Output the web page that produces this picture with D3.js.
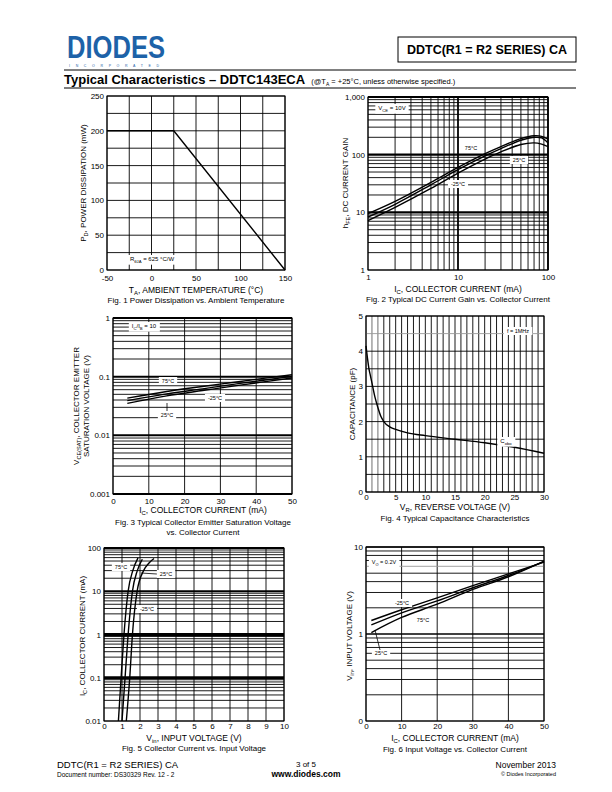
<!DOCTYPE html>
<html><head><meta charset="utf-8">
<script src="https://cdn.jsdelivr.net/npm/d3@7"></script>
<style>body{margin:0;background:#fff} svg{display:block;font-family:"Liberation Sans",Arial,sans-serif}</style>
</head><body><svg id="c" width="612" height="792"></svg>
<script>
// ---------- DATA ----------
const fig1Temp = [-50, 25, 150];
const fig1Power = [200, 200, 0];
const fig1XTicks = [-50, 0, 50, 100, 150];
const fig1YTicks = [0, 50, 100, 150, 200, 250];

const fig2Ic = [1, 2, 5, 10, 20, 30, 50, 70, 85, 100];
const fig2Gain75 = [9.5, 15.5, 33, 60, 104, 138, 190, 213, 208, 185];
const fig2Gain25 = [8.3, 13.8, 30, 55, 95, 127, 178, 200, 196, 160];
const fig2GainM25 = [7.2, 12.2, 26, 48, 84, 112, 150, 160, 152, 138];
const fig2XTicks = [1, 10, 100];
const fig2XLabels = ["1", "10", "100"];
const fig2YTicks = [1, 10, 100, 1000];
const fig2YLabels = ["1", "10", "100", "1,000"];

const fig3Ic = [4, 15, 25, 35, 50];
const fig3V75 = [0.043, 0.056, 0.068, 0.082, 0.108];
const fig3V25 = [0.039, 0.051, 0.062, 0.076, 0.101];
const fig3VM25 = [0.035, 0.047, 0.058, 0.071, 0.095];
const fig3XTicks = [0, 10, 20, 30, 40, 50];
const fig3YTicks = [0.001, 0.01, 0.1, 1];
const fig3YLabels = ["0.001", "0.01", "0.1", "1"];

const fig4Vr = [0, 0.25, 0.5, 0.75, 1, 1.5, 2, 2.5, 3, 4, 5, 7, 10, 15, 20, 25, 30];
const fig4Cobo = [4.15, 3.8, 3.5, 3.3, 3.1, 2.7, 2.4, 2.15, 2.0, 1.85, 1.78, 1.68, 1.6, 1.5, 1.4, 1.27, 1.1];
const fig4XTicks = [0, 5, 10, 15, 20, 25, 30];
const fig4YTicks = [0, 1, 2, 3, 4, 5];

const fig5Vin75 = [0.8, 0.95, 1.11, 1.34, 1.6, 1.89];
const fig5Ic75 = [0.01, 0.1, 1, 10, 30, 59];
const fig5Vin25 = [1.0, 1.17, 1.34, 1.58, 1.85, 2.13];
const fig5Ic25 = [0.01, 0.1, 1, 10, 30, 55];
const fig5VinM25 = [1.24, 1.43, 1.58, 1.84, 2.2, 2.5, 2.78];
const fig5IcM25 = [0.01, 0.1, 1, 10, 30, 45, 57];
const fig5XTicks = [0, 1, 2, 3, 4, 5, 6, 7, 8, 9, 10];
const fig5YTicks = [0.01, 0.1, 1, 10, 100];
const fig5YLabels = ["0.01", "0.1", "1", "10", "100"];

const fig6Ic = [1.5, 10, 20, 30, 40, 50];
const fig6VinM25 = [1.43, 1.9, 2.6, 3.6, 4.9, 6.7];
const fig6Vin25 = [1.27, 1.75, 2.4, 3.4, 4.7, 6.8];
const fig6Vin75 = [1.04, 1.55, 2.2, 3.25, 4.55, 6.9];
const fig6XTicks = [0, 10, 20, 30, 40, 50];
const fig6YTicks = [0.1, 1, 10];
const fig6YLabels = ["0", "1", "10"];

// ---------- HELPERS ----------
const svg = d3.select("#c");

function rich(g, x, y, parts, opts = {}) {
  const size = opts.size || 8.5;
  const t = g.append("text").attr("x", x).attr("y", y)
    .attr("font-size", size)
    .attr("text-anchor", opts.anchor || "start")
    .attr("font-weight", opts.weight || "normal")
    .attr("fill", "#000");
  if (opts.rotate) t.attr("transform", `rotate(-90 ${x} ${y})`);
  let shift = 0;
  parts.forEach(p => {
    if (typeof p === "string") {
      const s = t.append("tspan").text(p);
      if (shift) { s.attr("dy", -shift); shift = 0; }
    } else {
      const d = size * 0.28;
      t.append("tspan").attr("dy", d - shift).attr("font-size", size * 0.7).text(p.sub);
      shift = d;
    }
  });
  return t;
}

function boxLabel(g, x, y, parts, size) {
  const grp = g.append("g");
  const r = grp.append("rect").attr("fill", "#fff");
  const t = rich(grp, x, y, parts, { size: size || 6, anchor: "middle" });
  const b = t.node().getBBox();
  r.attr("x", b.x - 3).attr("y", b.y - 1).attr("width", b.width + 6).attr("height", b.height + 2);
  return grp;
}

function logMinor(lo, hi) {
  const out = [];
  for (let d = lo; d < hi * 0.999; d *= 10) for (let k = 1; k < 10; k++) out.push(d * k);
  out.push(hi);
  return out;
}

function chart(cfg) {
  const g = svg.append("g");
  const x = (cfg.xlog ? d3.scaleLog() : d3.scaleLinear()).domain(cfg.xd).range([cfg.l, cfg.r]);
  const y = (cfg.ylog ? d3.scaleLog() : d3.scaleLinear()).domain(cfg.yd).range([cfg.b, cfg.t]);
  const grid = g.append("g");
  cfg.vgrid.forEach(v => {
    grid.append("line").attr("x1", x(v.v)).attr("x2", x(v.v)).attr("y1", cfg.t).attr("y2", cfg.b)
      .attr("stroke", v.c || "#000").attr("stroke-width", v.w || 0.9);
  });
  cfg.hgrid.forEach(v => {
    grid.append("line").attr("y1", y(v.v)).attr("y2", y(v.v)).attr("x1", cfg.l).attr("x2", cfg.r)
      .attr("stroke", v.c || "#000").attr("stroke-width", v.w || 0.9);
  });
  g.append("rect").attr("x", cfg.l).attr("y", cfg.t).attr("width", cfg.r - cfg.l).attr("height", cfg.b - cfg.t)
    .attr("fill", "none").attr("stroke", "#000").attr("stroke-width", 1);
  const xa = g.append("g").attr("transform", `translate(0,${cfg.b})`)
    .call(d3.axisBottom(x).tickValues(cfg.xticks).tickSize(0).tickPadding(cfg.xpad || 4)
      .tickFormat((d, i) => cfg.xlabels ? cfg.xlabels[i] : d));
  const ya = g.append("g").attr("transform", `translate(${cfg.l},0)`)
    .call(d3.axisLeft(y).tickValues(cfg.yticks).tickSize(0).tickPadding(3)
      .tickFormat((d, i) => cfg.ylabels ? cfg.ylabels[i] : d));
  [xa, ya].forEach(a => {
    a.select(".domain").remove();
    a.selectAll("text").attr("font-size", 8).attr("font-family", "Liberation Sans, Arial, sans-serif").attr("fill", "#000");
  });
  return { g, x, y };
}

function curve(c, xs, ys, w, curveType) {
  const pts = xs.map((v, i) => [c.x(v), c.y(ys[i])]);
  c.g.append("path").attr("d", d3.line().curve(curveType || d3.curveCatmullRom)(pts))
    .attr("fill", "none").attr("stroke", "#000").attr("stroke-width", w || 1.4);
}

const range = (a, b, s) => d3.range(a, b + s / 2, s);
const near = (a, b) => Math.abs(a - b) < 1e-9 * Math.max(1, b);

// ---------- HEADER ----------
svg.append("text").attr("x", 67).attr("y", 58).attr("font-size", 31).attr("font-weight", "bold")
  .attr("fill", "#1d62a8").attr("textLength", 98).attr("lengthAdjust", "spacingAndGlyphs")
  .text("DIODES");
svg.append("text").attr("x", 69).attr("y", 67).attr("font-size", 3.5).attr("fill", "#1d62a8")
  .attr("textLength", 90).text("I N C O R P O R A T E D");
svg.append("rect").attr("x", 398).attr("y", 37).attr("width", 178).attr("height", 25)
  .attr("fill", "none").attr("stroke", "#000").attr("stroke-width", 1);
svg.append("text").attr("x", 487).attr("y", 54).attr("text-anchor", "middle").attr("font-size", 12.5)
  .attr("font-weight", "bold").text("DDTC(R1 = R2 SERIES) CA");
svg.append("line").attr("x1", 64).attr("x2", 576).attr("y1", 70).attr("y2", 70).attr("stroke", "#000").attr("stroke-width", 1);
svg.append("line").attr("x1", 64).attr("x2", 576).attr("y1", 88).attr("y2", 88).attr("stroke", "#000").attr("stroke-width", 1);
const tt = svg.append("text").attr("x", 64).attr("y", 84).attr("font-size", 13).attr("font-weight", "bold");
tt.append("tspan").text("Typical Characteristics \u2013 DDTC143ECA ");
tt.append("tspan").attr("font-size", 7.5).attr("font-weight", "normal").attr("dx", 3).text("(@T");
tt.append("tspan").attr("font-size", 5).attr("font-weight", "normal").attr("dy", 1.5).text("A");
tt.append("tspan").attr("font-size", 7.5).attr("font-weight", "normal").attr("dy", -1.5).text(" = +25\u00b0C, unless otherwise specified.)");

// ---------- FIG 1 ----------
const c1 = chart({ l: 107, r: 285, t: 96, b: 270, xd: [-50, 150], yd: [0, 250], xpad: 5.5,
  vgrid: range(-50, 150, 25).map(v => ({ v })), hgrid: range(0, 250, 25).map(v => ({ v })),
  xticks: fig1XTicks, yticks: fig1YTicks });
curve(c1, fig1Temp, fig1Power, 1.4, d3.curveLinear);
boxLabel(c1.g, 152, 261, ["R", { sub: "\u03b8JA" }, " = 625 \u00b0C/W"], 6).attr("font-weight", "bold");
rich(svg, 196, 293, ["T", { sub: "A" }, ", AMBIENT TEMPERATURE (\u00b0C)"], { anchor: "middle", size: 8.5 });
rich(svg, 196, 302.5, ["Fig. 1 Power Dissipation vs. Ambient Temperature"], { anchor: "middle", size: 8 });
rich(svg, 86, 183, ["P", { sub: "D" }, ", POWER DISSIPATION (mW)"], { anchor: "middle", size: 8, rotate: true });

// ---------- FIG 2 ----------
const c2 = chart({ l: 368, r: 548, t: 97, b: 270, xlog: true, ylog: true, xd: [1, 100], yd: [1, 1000],
  vgrid: logMinor(1, 100).map(v => ({ v, w: (near(v, 10) || near(v, 100)) ? 1.8 : 0.9 })),
  hgrid: logMinor(1, 1000).map(v => ({ v, w: (near(v, 10) || near(v, 100) || near(v, 1000)) ? 2.2 : 0.9 })),
  xticks: fig2XTicks, xlabels: fig2XLabels, yticks: fig2YTicks, ylabels: fig2YLabels });
curve(c2, fig2Ic, fig2Gain75);
curve(c2, fig2Ic, fig2Gain25);
curve(c2, fig2Ic, fig2GainM25);
boxLabel(c2.g, 392, 110, ["V", { sub: "CE" }, " = 10V"], 6);
boxLabel(c2.g, 471, 150, ["75\u00b0C"], 5.5);
boxLabel(c2.g, 519, 162, ["25\u00b0C"], 5.5);
boxLabel(c2.g, 458, 186, ["-25\u00b0C"], 5.5);
rich(svg, 458, 292, ["I", { sub: "C" }, ", COLLECTOR CURRENT (mA)"], { anchor: "middle", size: 8.5 });
rich(svg, 458, 302, ["Fig. 2 Typical DC Current Gain vs. Collector Current"], { anchor: "middle", size: 8 });
rich(svg, 348, 183, ["h", { sub: "FE" }, ", DC CURRENT GAIN"], { anchor: "middle", size: 8, rotate: true });

// ---------- FIG 3 ----------
const c3 = chart({ l: 113, r: 292, t: 318, b: 494, ylog: true, xd: [0, 50], yd: [0.001, 1],
  vgrid: fig3XTicks.map(v => ({ v })),
  hgrid: logMinor(0.001, 1).map(v => ({ v, w: [0.001, 0.01, 0.1, 1].some(d => near(v, d)) ? 2 : 0.9 })),
  xticks: fig3XTicks, yticks: fig3YTicks, ylabels: fig3YLabels });
curve(c3, fig3Ic, fig3V75);
curve(c3, fig3Ic, fig3V25);
curve(c3, fig3Ic, fig3VM25);
boxLabel(c3.g, 144, 328, ["I", { sub: "C" }, "/I", { sub: "B" }, " = 10"], 6);
boxLabel(c3.g, 168, 383, ["75\u00b0C"], 5.5);
boxLabel(c3.g, 215, 400, ["-25\u00b0C"], 5.5);
boxLabel(c3.g, 167, 417, ["25\u00b0C"], 5.5);
c3.g.append("line").attr("x1", 167).attr("x2", 167).attr("y1", 403).attr("y2", 411).attr("stroke", "#000").attr("stroke-width", 0.8);
rich(svg, 203, 513, ["I", { sub: "C" }, ", COLLECTOR CURRENT (mA)"], { anchor: "middle", size: 8.5 });
rich(svg, 203, 525, ["Fig. 3 Typical Collector Emitter Saturation Voltage"], { anchor: "middle", size: 8 });
rich(svg, 203, 535, ["vs. Collector Current"], { anchor: "middle", size: 8 });
rich(svg, 79, 406, ["V", { sub: "CE(SAT)" }, ", COLLECTOR EMITTER"], { anchor: "middle", size: 8, rotate: true });
rich(svg, 89, 406, ["SATURATION VOLTAGE (V)"], { anchor: "middle", size: 8, rotate: true });

// ---------- FIG 4 ----------
const c4 = chart({ l: 366, r: 544, t: 316, b: 492, xd: [0, 30], yd: [0, 5], xpad: 2,
  vgrid: range(0, 30, 1).map(v => ({ v, c: (v === 1 || v === 2) ? "#999" : "#000", w: (v === 1 || v === 2) ? 1.4 : 0.9 })),
  hgrid: range(0, 5, 0.5).map(v => ({ v, c: v === 4.5 ? "#999" : "#000" })),
  xticks: fig4XTicks, yticks: fig4YTicks });
curve(c4, fig4Vr, fig4Cobo, 1.4, d3.curveMonotoneX);
boxLabel(c4.g, 518, 333, ["f = 1MHz"], 5.5);
boxLabel(c4.g, 506, 443, ["C", { sub: "obo" }], 6);
rich(svg, 455, 510, ["V", { sub: "R" }, ", REVERSE VOLTAGE (V)"], { anchor: "middle", size: 8.5 });
rich(svg, 455, 521, ["Fig. 4  Typical Capacitance Characteristics"], { anchor: "middle", size: 8 });
rich(svg, 355, 404, ["CAPACITANCE (pF)"], { anchor: "middle", size: 8, rotate: true });

// ---------- FIG 5 ----------
const c5 = chart({ l: 104, r: 284, t: 548, b: 721, ylog: true, xd: [0, 10], yd: [0.01, 100], xpad: 2,
  vgrid: fig5XTicks.map(v => ({ v })),
  hgrid: logMinor(0.01, 100).map(v => ({ v, w: (near(v, 1) || near(v, 0.1)) ? 3 : (near(v, 10) || near(v, 100)) ? 2.2 : 0.9 })),
  xticks: fig5XTicks, yticks: fig5YTicks, ylabels: fig5YLabels });
curve(c5, fig5Vin75, fig5Ic75, 1.4, d3.curveMonotoneX);
curve(c5, fig5Vin25, fig5Ic25, 1.4, d3.curveMonotoneX);
curve(c5, fig5VinM25, fig5IcM25, 1.4, d3.curveMonotoneX);
boxLabel(c5.g, 121, 569, ["75\u00b0C"], 5.5);
c5.g.append("line").attr("x1", 141).attr("x2", 157).attr("y1", 573).attr("y2", 574).attr("stroke", "#000").attr("stroke-width", 0.8);
boxLabel(c5.g, 166, 576, ["25\u00b0C"], 5.5);
boxLabel(c5.g, 147, 611, ["-25\u00b0C"], 5.5);
rich(svg, 194, 741, ["V", { sub: "in" }, ", INPUT VOLTAGE (V)"], { anchor: "middle", size: 8.5 });
rich(svg, 194, 751, ["Fig. 5  Collector Current vs. Input Voltage"], { anchor: "middle", size: 8 });
rich(svg, 85, 636, ["I", { sub: "C" }, ", COLLECTOR CURRENT (mA)"], { anchor: "middle", size: 8, rotate: true });

// ---------- FIG 6 ----------
const c6 = chart({ l: 366, r: 544, t: 547, b: 721, ylog: true, xd: [0, 50], yd: [0.1, 10], xpad: 2,
  vgrid: fig6XTicks.map(v => ({ v })),
  hgrid: logMinor(0.1, 10).map(v => ({ v, c: near(v, 6) ? "#999" : "#000",
    w: (near(v, 1) || near(v, 10)) ? 1.6 : 0.9 })),
  xticks: fig6XTicks, yticks: fig6YTicks, ylabels: fig6YLabels });
curve(c6, fig6Ic, fig6VinM25);
curve(c6, fig6Ic, fig6Vin25);
curve(c6, fig6Ic, fig6Vin75);
boxLabel(c6.g, 384, 564, ["V", { sub: "O" }, " = 0.2V"], 5.5);
boxLabel(c6.g, 402, 605, ["-25\u00b0C"], 5.5);
boxLabel(c6.g, 423, 622, ["75\u00b0C"], 5.5);
boxLabel(c6.g, 381, 655, ["25\u00b0C"], 5.5);
c6.g.append("line").attr("x1", 375).attr("x2", 380).attr("y1", 630).attr("y2", 650).attr("stroke", "#000").attr("stroke-width", 0.8);
rich(svg, 455, 741, ["I", { sub: "C" }, ", COLLECTOR CURRENT (mA)"], { anchor: "middle", size: 8.5 });
rich(svg, 455, 752, ["Fig. 6  Input Voltage vs. Collector Current"], { anchor: "middle", size: 8 });
rich(svg, 352, 636, ["V", { sub: "in" }, ", INPUT VOLTAGE (V)"], { anchor: "middle", size: 8, rotate: true });

// ---------- FOOTER ----------
svg.append("text").attr("x", 57).attr("y", 768).attr("font-size", 9.5).text("DDTC(R1 = R2 SERIES) CA");
svg.append("text").attr("x", 57).attr("y", 777).attr("font-size", 6.5).text("Document number: DS30329 Rev. 12 - 2");
svg.append("text").attr("x", 306).attr("y", 767).attr("font-size", 8).attr("text-anchor", "middle").text("3 of 5");
svg.append("text").attr("x", 306).attr("y", 777).attr("font-size", 8.5).attr("font-weight", "bold").attr("text-anchor", "middle").text("www.diodes.com");
svg.append("text").attr("x", 556).attr("y", 768).attr("font-size", 8.5).attr("text-anchor", "end").text("November 2013");
svg.append("text").attr("x", 556).attr("y", 776).attr("font-size", 5.5).attr("text-anchor", "end").text("\u00a9 Diodes Incorporated");
</script></body></html>
